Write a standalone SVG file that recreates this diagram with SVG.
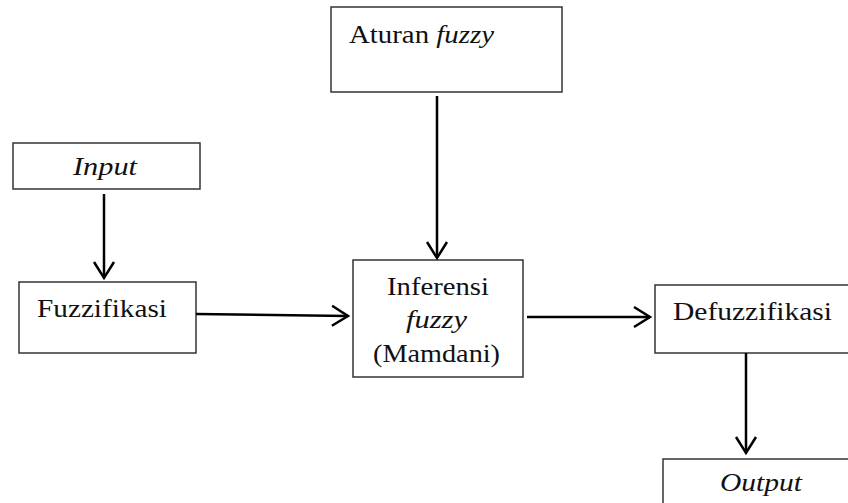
<svg xmlns="http://www.w3.org/2000/svg" width="848" height="503" viewBox="0 0 848 503">
<style>
.box{fill:#fff;stroke:#333;stroke-width:1.5}
.c{stroke:#000;stroke-width:2.5;fill:none}
</style>
<defs>
<marker id="ah" viewBox="0 0 24 24" refX="21" refY="12" markerWidth="24" markerHeight="24" markerUnits="userSpaceOnUse" orient="auto">
<path d="M5,2 L21,12 L5,22" fill="none" stroke="#000" stroke-width="2.5"/>
</marker>
</defs>
<rect width="848" height="503" fill="#fff"/>
<g id="aturan">
<rect class="box" x="331" y="7" width="231" height="85"/>
<text x="349" y="43" font-family="Liberation Serif" font-size="26" fill="#111" textLength="145" lengthAdjust="spacingAndGlyphs">Aturan <tspan font-style="italic">fuzzy</tspan></text>
</g>
<g id="input">
<rect class="box" x="13" y="143" width="187" height="46"/>
<text x="73" y="175" font-family="Liberation Serif" font-size="26" font-style="italic" fill="#111" textLength="64" lengthAdjust="spacingAndGlyphs">Input</text>
</g>
<g id="fuzzifikasi">
<rect class="box" x="19" y="282" width="177" height="71"/>
<text x="37" y="317" font-family="Liberation Serif" font-size="26" fill="#111" textLength="130" lengthAdjust="spacingAndGlyphs">Fuzzifikasi</text>
</g>
<g id="inferensi">
<rect class="box" x="353" y="260" width="170" height="117"/>
<text x="387" y="295" font-family="Liberation Serif" font-size="26" fill="#111" textLength="102" lengthAdjust="spacingAndGlyphs">Inferensi</text>
<text x="406" y="328" font-family="Liberation Serif" font-size="26" font-style="italic" fill="#111" textLength="61" lengthAdjust="spacingAndGlyphs">fuzzy</text>
<text x="373" y="362" font-family="Liberation Serif" font-size="26" fill="#111" textLength="127" lengthAdjust="spacingAndGlyphs">(Mamdani)</text>
</g>
<g id="defuzzifikasi">
<rect class="box" x="655" y="285" width="200" height="68"/>
<text x="673" y="320" font-family="Liberation Serif" font-size="26" fill="#111" textLength="159" lengthAdjust="spacingAndGlyphs">Defuzzifikasi</text>
</g>
<g id="output">
<rect class="box" x="663" y="459" width="200" height="60"/>
<text x="720" y="491" font-family="Liberation Serif" font-size="26" font-style="italic" fill="#111" textLength="82" lengthAdjust="spacingAndGlyphs">Output</text>
</g>
<g id="connectors">
<line class="c" x1="104" y1="194" x2="104" y2="278" marker-end="url(#ah)"/>
<line class="c" x1="437" y1="96" x2="437" y2="258" marker-end="url(#ah)"/>
<line class="c" x1="196" y1="314" x2="348" y2="316" marker-end="url(#ah)"/>
<line class="c" x1="527" y1="317" x2="650" y2="317" marker-end="url(#ah)"/>
<line class="c" x1="746" y1="353" x2="746" y2="453" marker-end="url(#ah)"/>
</g>
</svg>
